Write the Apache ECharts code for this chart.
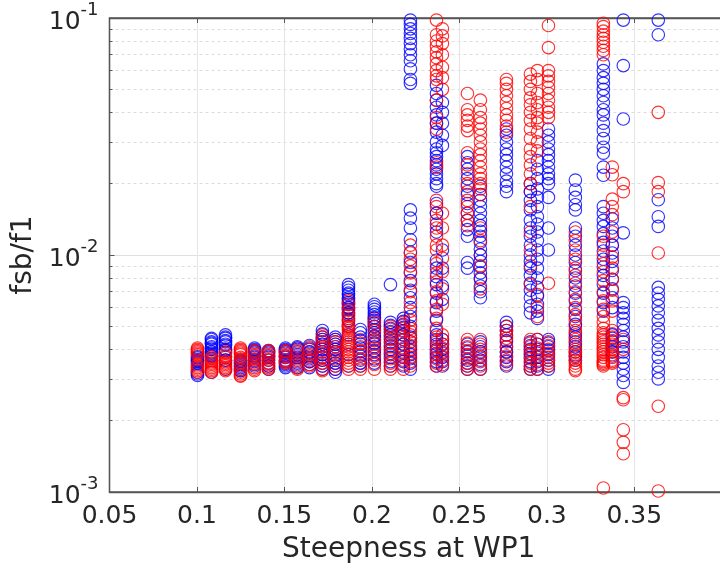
<!DOCTYPE html>
<html><head><meta charset="utf-8">
<script src="https://cdn.jsdelivr.net/npm/echarts@6/dist/echarts.min.js"></script>
<style>html,body{margin:0;padding:0;background:#fff}#c{width:720px;height:572px}</style>
</head><body><div id="c"></div>
<script>
// Steepness (x) of each measurement column
const steepness = [0.1003,0.1083,0.1163,0.1249,0.1329,0.1409,0.1506,0.1574,0.1643,0.1717,
  0.1791,0.1866,0.1934,0.2014,0.2106,0.2180,0.2220,0.2369,0.2403,0.2546,
  0.2620,0.2769,0.2906,0.2946,0.3009,0.3163,0.3323,0.3374,0.3437,0.3637];
// fsb/f1 values in units of 1e-3, red series, one list per column
const redFsbE3 = [
  [4.05,4.0,3.95,3.9,3.85,3.8,3.75,3.45,3.4,3.35,3.3,3.25,3.2],
  [3.75,3.7,3.65,3.6,3.55,3.5,3.45,3.4,3.35,3.3,3.25,3.2],
  [3.9,3.85,3.75,3.7,3.6,3.55,3.5,3.45,3.4,3.35,3.3,3.25],
  [4.05,4.0,3.95,3.9,3.85,3.8,3.7,3.65,3.6,3.5,3.4,3.3,3.25,3.2,3.15,3.1,3.08],
  [3.95,3.9,3.8,3.75,3.65,3.6,3.5,3.45,3.35,3.3,3.25],
  [3.95,3.9,3.8,3.75,3.65,3.6,3.5,3.45,3.4,3.35,3.3],
  [3.95,3.9,3.8,3.75,3.7,3.6,3.55,3.5],
  [4.05,3.95,3.85,3.75,3.65,3.55,3.45,3.35,3.3],
  [4.1,4.0,3.9,3.8,3.7,3.6,3.55,3.45,3.4],
  [4.6,4.5,4.4,4.3,4.2,4.1,4.0,3.9,3.8,3.7,3.6,3.5,3.4,3.3,3.25],
  [4.4,4.3,4.2,4.1,4.0,3.9,3.8,3.65,3.5,3.4,3.3],
  [6.4,6.2,6.0,5.85,5.7,5.55,5.4,5.25,5.1,5.0,4.9,4.8,4.7,4.6,4.5,4.4,4.3,4.2,4.1,4.0,3.9,3.8,3.7,3.6,3.5,3.4,3.3],
  [4.4,4.25,4.1,3.95,3.8,3.65,3.5,3.4,3.3],
  [5.4,5.2,5.0,4.8,4.5,4.35,4.2,4.05,3.9,3.75,3.6,3.45,3.3],
  [5.0,4.85,4.7,4.55,4.4,4.25,4.1,3.95,3.8,3.65,3.5,3.4,3.3],
  [5.2,5.05,4.9,4.75,4.6,4.4,4.2,4.05,3.9,3.75,3.6,3.45,3.3],
  [11.0,10.2,9.6,9.0,8.4,7.6,7.0,6.3,5.8,5.3,4.9,4.75,4.6,4.45,4.3,4.15,4.0,3.85,3.7,3.55,3.4],
  [98,85,80,76,72,68,64,60,57,55,45,38,36,34,24.5,23.5,17,16,15,14,13,12,11,10.5,9.2,8.4,7.7,7.0,6.4,5.9,5.4,4.9,4.5,4.3,4.1,3.95,3.8,3.65,3.5,3.4],
  [90,84,78,70,62,56,50,15,13,11,9.7,8.5,7.2,6.2,4.6,4.4,4.2,4.05,3.9,3.75,3.6,3.45],
  [48,41,39,37,35,33.5,27,24,22,20,18.5,17,16,15,14,13.3,4.4,4.25,4.1,3.95,3.8,3.65,3.5,3.4,3.3],
  [45,41,38,36,34,32,30,28,26.5,25,23.5,22,21,20,19,18,13,11.5,10,9,8,7.2,4.4,4.2,4.0,3.85,3.7,3.55,3.4,3.3],
  [55,53,50,47,44,41.5,39,37,35,33,5.0,4.8,4.6,4.45,4.3,4.1,3.9,3.75,3.6,3.45],
  [58,54,50,46,43,40,37,34,31,28,26,24,22,20,18.5,16,12.5,10.5,9,7.5,4.4,4.25,4.1,3.95,3.8,3.65,3.5,3.4,3.3],
  [60,55,48,44,41,38,36,33,30,27.5,6.8,6,5.5,4.4,4.2,4.05,3.9,3.75,3.6,3.45,3.3],
  [93,75,60,57,54,51,48,45,42,40,38,7.6,4.3,4.15,4.0,3.85,3.7,3.6,3.5,3.4],
  [12.5,11.5,10.5,9.6,8.8,8.2,7.6,7,6.5,6,5.6,5.3,5,4.8,4.6,4.4,4.2,4.0,3.9,3.8,3.7,3.6,3.5,3.4,3.3,3.25],
  [95,92,88,85,82,79,76,73,70,12,11,10,9.2,8.5,7.8,7,6.4,5.9,5.5,5.2,4.9,4.7,4.6,4.5,4.4,4.3,4.2,4.1,4.0,3.9,3.8,3.7,3.6,3.55,3.5,3.45,3.4,1.04],
  [23.5,21.8,17.2,16,14.8,12.5,11,9.8,8.8,7.9,7.1,6.4,5.8,4.8,4.65,4.5,4.35,4.2,4.1,4.0,3.9,3.8,3.7,3.6,3.55,3.5],
  [20,18.5,4.4,4.0,2.5,2.45,1.83,1.62,1.45],
  [40,20.2,18.5,10.2,2.3,1.01]
];
// fsb/f1 values in units of 1e-3, blue series, one list per column
const blueFsbE3 = [
  [3.72,3.68,3.62,3.58,3.55,3.5,3.2,3.15,3.1],
  [4.45,4.4,4.3,4.25,4.2,4.1,4.05,4.0,3.9,3.85,3.8,3.75,3.2],
  [4.6,4.5,4.45,4.35,4.3,4.2,4.15,4.0,3.95,3.6,3.3],
  [3.6,3.55,3.5,3.45,3.4,3.35,3.3,3.25],
  [4.05,4.0,3.95,3.9,3.85,3.75,3.7,3.6,3.55,3.45,3.4],
  [3.95,3.9,3.85,3.75,3.7,3.6,3.5,3.4,3.3],
  [4.05,4.0,3.95,3.9,3.85,3.75,3.7,3.6,3.55,3.5,3.45,3.4,3.35],
  [4.1,4.05,4.0,3.9,3.8,3.7,3.6,3.5,3.4,3.35],
  [4.15,4.05,4.0,3.9,3.85,3.75,3.65,3.55,3.45,3.35],
  [4.8,4.65,4.5,4.4,4.3,4.2,4.1,4.0,3.9,3.8,3.7,3.6,3.5,3.4,3.3],
  [4.5,4.4,4.3,4.2,4.1,4.0,3.9,3.75,3.6,3.5,3.4,3.3,3.2],
  [7.5,7.3,7.1,6.9,6.8,6.6,6.5,6.3,6.2,6.0,5.9,5.7,5.6,5.3,5.0,4.6,4.2,3.8,3.4],
  [4.85,4.7,4.5,4.35,4.2,4.05,3.9,3.75,3.6,3.5,3.4],
  [6.2,6.05,5.9,5.75,5.6,5.45,5.3,5.15,5.0,4.85,4.7,4.55,4.4,4.25,4.1,3.95,3.8,3.65,3.5],
  [7.5,5.2,5.05,4.9,4.75,4.6,4.45,4.3,4.15,4.0,3.85,3.7,3.55,3.4],
  [5.4,5.25,5.1,4.95,4.8,4.6,4.4,4.2,4.0,3.85,3.7,3.55,3.4],
  [98,94,90,86,82,78,74,70,66,61,55,53,15.5,14.3,13.0,11.6,10.3,9.3,8.5,7.8,7.1,6.6,6.0,5.5,5.0,4.5,4.3,4.1,3.95,3.8,3.65,3.5,3.3],
  [52,48,45,42,39,36,33,30,28,26,24,22,20,27,25,23,21,19.5,16.5,15,13.5,12.5,9.5,8.8,8.1,7.5,6.9,6.3,5.8,5.3,4.8,4.6,4.4,4.2,4.0,3.85,3.7,3.55,3.4],
  [44,40,36,32,29,10.5,8.8,7.4,6.5,4.4,4.2,4.0,3.85,3.7,3.55,3.4],
  [26,24.5,23,21,19.5,18,16.5,15,14,12.8,12,9.3,8.8,4.2,4.05,3.9,3.75,3.6,3.5,3.4,3.3],
  [19.5,18,17,16,15,14,13.3,12.6,12,11.3,10.6,10,9.4,8.9,8.4,7.9,7.4,7.0,6.6,4.3,4.1,3.9,3.75,3.6,3.45,3.3],
  [34,32,30,28,26.5,25,23.5,22,20.5,19.5,18.5,5.2,5.0,4.8,4.6,4.35,4.1,3.9,3.7,3.55,3.4],
  [20,18.5,17,15.5,14,13,12,11,10,9.4,8.8,8.2,7.6,7.1,6.6,6.1,5.7,4.3,4.15,4.0,3.85,3.7,3.55,3.4,3.3],
  [25,23,21,19,17.5,16,14.5,13.5,12.5,11.5,10.5,9.6,8.8,8,7.3,6.7,6.2,5.8,5.4,4.4,4.2,4.0,3.85,3.7,3.55,3.4,3.3],
  [34,32,30,28,26.5,25,23.5,22,21,20,17.5,13,10.5,4.4,4.25,4.1,3.95,3.8,3.6,3.4,3.3],
  [20.7,18.8,17.5,16.3,15.5,13,12,11,10,9.3,8.6,8,7.4,6.9,6.4,5.9,5.5,5.1,4.7,4.5,4.3,4.1,3.9,3.75,3.6],
  [64,60,56,53,50,47,44,41,39,36,33.5,31,28.5,26.9,23.5,21.7,16,15,14,13.2,12.3,11.3,10.4,9.6,8.9,8.2,7.5,6.9,6.3,5.8],
  [14.2,13,12,11,10.2,9.4,8.6,7.9,7.2,6.6,6,4.6,4.45,4.3,4.1,3.9,3.75],
  [98,63,37.5,12.4,6.3,6.0,5.7,5.4,5.1,4.8,4.5,4.3,4.1,3.9,3.7,3.5,3.3,3.1,2.9],
  [98,85,17.1,14.5,13.2,7.3,6.9,6.5,6.1,5.7,5.3,4.9,4.6,4.3,4.0,3.7,3.4,3.2,3.0]
];
const xTicks = [0.05,0.1,0.15,0.2,0.25,0.3,0.35,0.4];
const xLabelsShown = ['0.05','0.1','0.15','0.2','0.25','0.3','0.35',''];

function pts(cols, parity) {
  const out = [];
  cols.forEach((list, ci) => list.forEach((v, k) => {
    if (k % 2 === parity) out.push([steepness[ci], v * 1e-3]);
  }));
  return out;
}
const FONT = 'DejaVu Sans';
const chart = echarts.init(document.getElementById('c'), null, {renderer: 'canvas'});
function sc(name, color, data) {
  return {name, type: 'scatter', data, symbol: 'circle', symbolSize: 12.5,
    progressive: 0, large: false, silent: true,
    itemStyle: {color: 'rgba(0,0,0,0)', borderColor: color, borderWidth: 1.15}};
}
const axisCol = '#555';
chart.setOption({
  animation: false,
  backgroundColor: '#fff',
  grid: {left: 109.5, top: 18, right: -1.8, bottom: 80, outerBoundsMode: 'none', containLabel: false,
    show: true, borderColor: axisCol, borderWidth: 1.3, backgroundColor: 'transparent'},
  xAxis: [{
    type: 'value', min: 0.05, max: 0.4, interval: 0.05, position: 'bottom',
    name: 'Steepness at WP1', nameLocation: 'middle', nameGap: 44,
    nameTextStyle: {fontFamily: FONT, fontSize: 28, color: '#262626', padding: [0, 14, 0, 0]},
    axisLine: {show: true, lineStyle: {color: axisCol, width: 1.3}},
    axisTick: {show: true, inside: true, length: 5, lineStyle: {color: axisCol}},
    splitLine: {show: true, lineStyle: {color: '#e6e6e6', width: 1}},
    axisLabel: {fontFamily: FONT, fontSize: 25, color: '#262626', margin: 12,
      formatter: v => { const i = xTicks.findIndex(t => Math.abs(t - v) < 1e-9); return i >= 0 ? xLabelsShown[i] : ''; }}
  }, {
    type: 'value', min: 0.05, max: 0.4, interval: 0.05, position: 'top',
    axisLine: {show: true, lineStyle: {color: axisCol, width: 1.3}},
    axisTick: {show: true, inside: true, length: 5, lineStyle: {color: axisCol}},
    splitLine: {show: false}, axisLabel: {show: false}
  }],
  yAxis: {
    type: 'log', logBase: 10, min: 0.001, max: 0.1,
    name: 'fsb/f1', nameLocation: 'middle', nameGap: 62,
    nameTextStyle: {fontFamily: FONT, fontSize: 28, color: '#262626'},
    axisLine: {show: true, lineStyle: {color: axisCol, width: 1.3}},
    axisTick: {show: true, inside: true, length: 5, lineStyle: {color: axisCol}},
    minorTick: {show: true, splitNumber: 9, length: 3, lineStyle: {color: axisCol}},
    splitLine: {show: true, lineStyle: {color: '#e0e0e0', width: 1}},
    minorSplitLine: {show: true, lineStyle: {color: '#dcdcdc', width: 1, type: [3, 3]}},
    axisLabel: {
      margin: 11, color: '#262626', fontFamily: FONT,
      formatter: v => { const e = Math.round(Math.log10(v)); return '{s|' + e + '}\n{b|10}{g|' + e + '}'; },
      rich: {
        s: {fontFamily: FONT, fontSize: 18, lineHeight: 9, color: '#262626', align: 'right'},
        b: {fontFamily: FONT, fontSize: 25, lineHeight: 15, color: '#262626', align: 'right'},
        g: {fontFamily: FONT, fontSize: 18, lineHeight: 15, color: 'rgba(0,0,0,0)', align: 'right'}
      }
    }
  },
  series: [
    sc('blueA', '#0000ff', pts(blueFsbE3, 0)),
    sc('redA', '#ff0000', pts(redFsbE3, 0)),
    sc('blueB', '#0000ff', pts(blueFsbE3, 1)),
    sc('redB', '#ff0000', pts(redFsbE3, 1))
  ]
});
</script></body></html>
